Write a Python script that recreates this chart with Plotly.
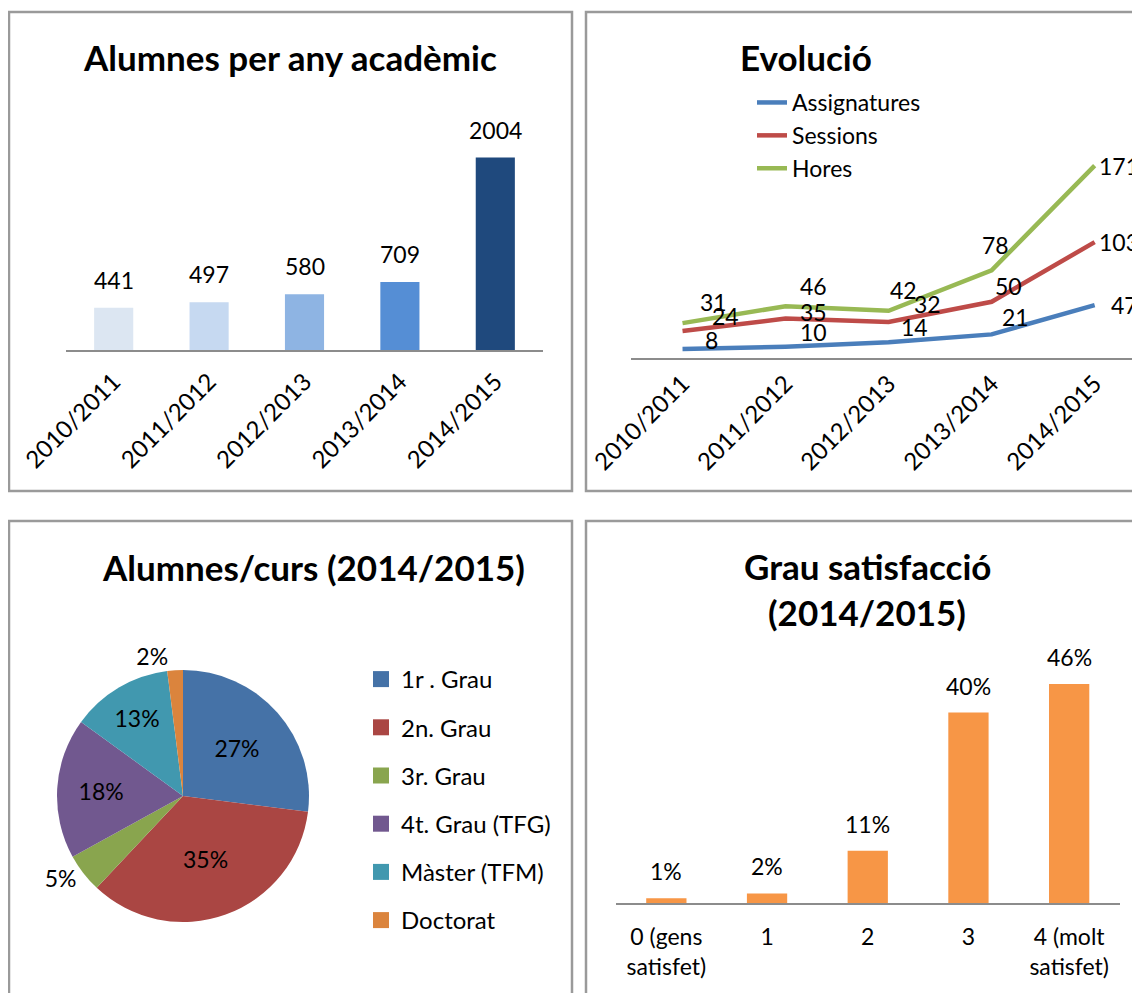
import plotly.graph_objects as go

# ---------------- data ----------------
years = ["2010/2011", "2011/2012", "2012/2013", "2013/2014", "2014/2015"]
alumnes = [441, 497, 580, 709, 2004]

assignatures = [8, 10, 14, 21, 47]
sessions = [24, 35, 32, 50, 103]
hores = [31, 46, 42, 78, 171]

cursos = ["1r . Grau", "2n. Grau", "3r. Grau", "4t. Grau (TFG)", "Màster (TFM)", "Doctorat"]
cursos_pct = [27, 35, 5, 18, 13, 2]

satisf_cats = ["0 (gens<br>satisfet)", "1", "2", "3", "4 (molt<br>satisfet)"]
satisf_pct = [1, 2, 11, 40, 46]

# ---------------- styles ----------------
OX, OY = 8, 8          # page offset of the figure (body margin)
W, H = 1140 - OX, 993 - OY
FONT = "Lato"
FS = 23
FS_TICK = 24
TITLE_FS = 35
bar_colors = ["#DCE6F2", "#C6D9F1", "#8EB4E3", "#558ED5", "#1F497D"]
line_colors = {"Assignatures": "#4A7EBB", "Sessions": "#BE4B48", "Hores": "#98B954"}
pie_colors = ["#4572A7", "#AA4643", "#89A54E", "#71588F", "#4198AF", "#DB843D"]
sat_color = "#F79646"
axis_col = "#8C8C8C"
border_col = "#9A9A9A"


def px(x):
    return (x - OX) / W


def py(y):
    return 1 - (y - OY) / H


fig = go.Figure()

# ---- Chart 1: Alumnes per any acadèmic ----
fig.add_trace(go.Bar(x=years, y=alumnes, marker_color=bar_colors, width=0.41,
                     xaxis="x", yaxis="y", showlegend=False))

# ---- Chart 2: Evolució ----
series = [("Assignatures", assignatures), ("Sessions", sessions), ("Hores", hores)]
for name, vals in series:
    fig.add_trace(go.Scatter(x=years, y=vals, mode="lines", name=name,
                             line=dict(color=line_colors[name], width=4.5),
                             xaxis="x2", yaxis="y2", legend="legend"))

# ---- Chart 3: pie ----
fig.add_trace(go.Pie(labels=cursos, values=cursos_pct, sort=False, direction="clockwise",
                     rotation=0, marker=dict(colors=pie_colors),
                     texttemplate="%{value}%",
                     textposition=["inside", "inside", "outside", "inside", "inside", "outside"],
                     insidetextorientation="horizontal",
                     textfont=dict(size=FS, color="black", family=FONT),
                     showlegend=False,
                     domain=dict(x=[px(57), px(309)], y=[py(922), py(670)])))
# legend entries for the pie
for i, (lab, col) in enumerate(zip(cursos, pie_colors)):
    fig.add_trace(go.Scatter(x=[None], y=[None], mode="markers", name=lab,
                             marker=dict(symbol="square", size=17, color=col),
                             xaxis="x4", yaxis="y4", legend="legend2",
                             legendgroup="g%d" % i, showlegend=True))

# ---- Chart 4: Grau satisfacció ----
fig.add_trace(go.Bar(x=satisf_cats, y=satisf_pct, marker_color=sat_color, width=0.4,
                     xaxis="x4", yaxis="y4", showlegend=False))

annotations = []
# bar labels chart 1
for c, v in zip(years, alumnes):
    annotations.append(dict(x=c, y=v, xref="x", yref="y", text=str(v), showarrow=False,
                            yshift=28, font=dict(size=FS, family=FONT, color="black")))
# bar labels chart 4
for c, v in zip(satisf_cats, satisf_pct):
    annotations.append(dict(x=c, y=v, xref="x4", yref="y4", text="%d%%" % v, showarrow=False,
                            yshift=27, font=dict(size=FS, family=FONT, color="black")))
# line labels (offsets dx, dy in px; dy positive = up)
label_off = {
    "Hores": [(31, 21), (28, 20), (15, 21), (4, 25), (24, 0)],
    "Sessions": [(43, 15), (28, 7), (39, 18), (17, 16), (24, 0)],
    "Assignatures": [(29, 9), (28, 15), (26, 15), (24, 17), (30, 0)],
}
for name, vals in series:
    for c, v, (dx, dy) in zip(years, vals, label_off[name]):
        annotations.append(dict(x=c, y=v, xref="x2", yref="y2", text=str(v), showarrow=False,
                                xshift=dx, yshift=dy,
                                font=dict(size=FS, family=FONT, color="black")))
# titles
tfont = dict(size=TITLE_FS, family=FONT, color="black")
annotations += [
    dict(x=px(290), y=py(57), xref="paper", yref="paper", text="<b>Alumnes per any acadèmic</b>",
         showarrow=False, font=tfont, xanchor="center", yanchor="middle"),
    dict(x=px(806), y=py(57), xref="paper", yref="paper", text="<b>Evolució</b>",
         showarrow=False, font=tfont, xanchor="center", yanchor="middle"),
    dict(x=px(313), y=py(567), xref="paper", yref="paper", text="<b>Alumnes/curs (2014/2015)</b>",
         showarrow=False, font=tfont, xanchor="center", yanchor="middle"),
    dict(x=px(867), y=py(566), xref="paper", yref="paper", text="<b>Grau satisfacció</b>",
         showarrow=False, font=tfont, xanchor="center", yanchor="middle"),
    dict(x=px(867), y=py(612), xref="paper", yref="paper", text="<b>(2014/2015)</b>",
         showarrow=False, font=tfont, xanchor="center", yanchor="middle"),
]

# panel borders
shapes = []
for (x0, y0, x1, y1) in [(9, 12, 572, 491), (586, 12, 1160, 491), (9, 521, 572, 1010), (586, 521, 1160, 1010)]:
    shapes.append(dict(type="rect", xref="paper", yref="paper", x0=px(x0), x1=px(x1),
                       y0=py(y1), y1=py(y0), line=dict(color=border_col, width=2.5)))

tick_font = dict(size=FS_TICK, family=FONT, color="black")
cat_axis = dict(type="category", showgrid=False, zeroline=False, showline=True,
                linecolor=axis_col, linewidth=2, ticks="", tickfont=tick_font,
                automargin=False)
val_axis = dict(showgrid=False, zeroline=False, showline=False, showticklabels=False,
                ticks="", automargin=False)

fig.update_layout(
    template="none",
    width=W, height=H, margin=dict(l=0, r=0, t=0, b=0, autoexpand=False),
    paper_bgcolor="white", plot_bgcolor="white",
    font=dict(family=FONT, size=FS, color="black"),
    bargap=0.59,
    xaxis=dict(cat_axis, domain=[px(66), px(543)], anchor="y", tickangle=-45,
               ticklabelstandoff=6),
    yaxis=dict(val_axis, domain=[py(350), py(110)], range=[0, 2500], anchor="x"),
    xaxis2=dict(cat_axis, domain=[px(631), 1.0], anchor="y2", tickangle=-45,
                range=[-0.5, 4.44], ticklabelstandoff=0),
    yaxis2=dict(val_axis, domain=[py(358), py(133)], range=[0, 200], anchor="x2"),
    xaxis4=dict(cat_axis, domain=[px(616), px(1119.5)], anchor="y4", tickangle=0,
                ticklabelstandoff=12, tickfont=dict(size=FS, family=FONT, color="black")),
    yaxis4=dict(val_axis, domain=[py(903), py(665)], range=[0, 50], anchor="x4"),
    legend=dict(x=px(752), y=py(81), xanchor="left", yanchor="top",
                bgcolor="rgba(0,0,0,0)", font=dict(size=FS, family=FONT),
                itemwidth=30, tracegroupgap=0),
    legend2=dict(x=px(361), y=py(657), xanchor="left", yanchor="top",
                 bgcolor="rgba(0,0,0,0)", font=dict(size=FS_TICK, family=FONT),
                 tracegroupgap=14),
    annotations=annotations,
    shapes=shapes,
)

fig.write_html("out.html")
